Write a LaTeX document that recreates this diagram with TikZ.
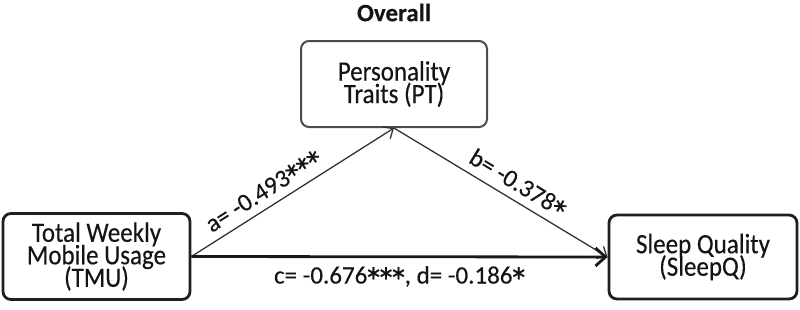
\documentclass[tikz,border=0pt]{standalone}
\usepackage{fontspec}
\setmainfont{Carlito}[FakeBold=0.3]
\newfontfamily\boxfont{Carlito}[FakeStretch=0.893,FakeBold=0.3]
\usetikzlibrary{arrows.meta}
\newcommand\myst{\makebox[0.498em]{\raisebox{-0.48em}[0.68em][0pt]{\scalebox{1.6}{*}}}}
\begin{document}
\begin{tikzpicture}[x=1pt,y=-1pt,
  txt/.style={font=\fontsize{25}{24}\selectfont, text=black!92},
  box/.style={font={\boxfont\fontsize{28}{22.5}\selectfont\lineskiplimit=-50pt}, text=black!92, draw=black!88, line width=2.8pt, rounded corners=8pt, fill=white, align=center, inner sep=0pt},
  topbox/.style={box, draw=black!70, line width=2pt},
  thinarrow/.style={draw=black!80, line width=1.3pt, -{Straight Barb[length=8pt,width=14pt]}},
  thickarrow/.style={draw=black!90, line width=2.8pt, -{Straight Barb[length=10pt,width=18pt]}},
  lbl/.style={txt, inner sep=0pt}
]
\useasboundingbox (0,0) rectangle (800,309);
\node[txt, font=\fontsize{25}{24}\selectfont\bfseries] (title) at (394,12.5) {Overall};
\node[box, minimum width=187pt, minimum height=86pt] (tmu) at (96.5,256.5) {Total Weekly\\Mobile Usage\\(TMU)};
\node[box, minimum width=188pt, minimum height=84pt] (sq) at (703,257) {Sleep Quality\\(SleepQ)};
\node[topbox, minimum width=186pt, minimum height=86pt] (pt) at (394,84) {Personality\\Traits (PT)};
\draw[thinarrow] (tmu.east) -- node[lbl, pos=0.4, sloped, above=8pt] (la) {a= -0.493\myst\myst\myst} (pt.south);
\draw[thinarrow] (pt.south) -- node[lbl, pos=0.54, sloped, above=8pt] (lb) {b= -0.378\myst} (sq.west);
\draw[thickarrow] (tmu.east) -- node[lbl, midway, below=8pt] (lc) {c= -0.676\myst\myst\myst, d= -0.186\myst} (sq.west);
\end{tikzpicture}
\end{document}
